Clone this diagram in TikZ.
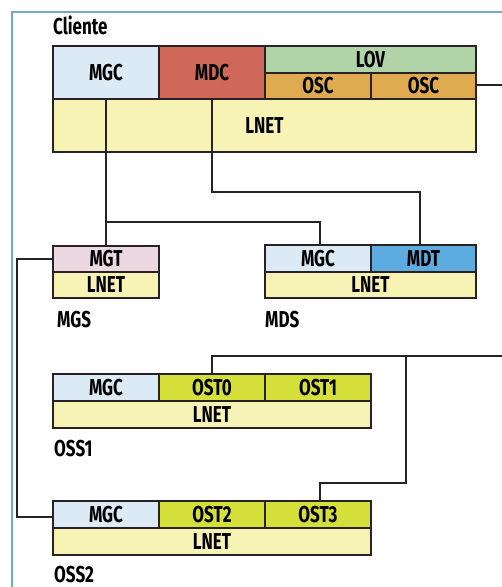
\documentclass[tikz,border=0pt]{standalone}
\usepackage{fontspec}
\setmainfont{Fira Sans}[FakeStretch=0.74]
\definecolor{frameblue}{RGB}{120,170,185}
\definecolor{linegray}{RGB}{40,34,38}
\definecolor{mgcfill}{RGB}{220,234,245}
\definecolor{mdcfill}{RGB}{208,104,90}
\definecolor{lovfill}{RGB}{176,211,168}
\definecolor{oscfill}{RGB}{224,170,80}
\definecolor{lnetfill}{RGB}{247,243,181}
\definecolor{mgtfill}{RGB}{236,216,224}
\definecolor{mdtfill}{RGB}{94,172,223}
\definecolor{ostfill}{RGB}{212,223,58}
\tikzset{
  cell/.style={draw=linegray, line width=1.3pt, inner sep=0pt, font=\fontsize{23}{23}\selectfont\bfseries},
  lbl/.style={anchor=base west, inner sep=0pt, font=\fontsize{23}{23}\selectfont\bfseries},
  wire/.style={draw=linegray, line width=2.4pt, line join=miter}
}
% cell from (x1,y1) to (x2,y2), in pixel units
\newcommand{\mycell}[7]{%
  \node[cell, fill=#6, minimum width={(#4-#2)*1pt}, minimum height={(#5-#3)*1pt}]
    (#1) at ({(#2+#4)/2},{(#3+#5)/2}) {#7};}
\begin{document}
\begin{tikzpicture}[x=1pt,y=-1pt]
\useasboundingbox (0,0) rectangle (502,587);
% outer frame
\draw[frameblue, line width=1.6pt] (12,587) -- (12,12) -- (502,12);

% client
\node[lbl] (lcli) at (53,34) {Cliente};
\mycell{cmgc}{53}{46}{159}{99}{mgcfill}{MGC}
\mycell{cmdc}{159}{46}{265}{99}{mdcfill}{MDC}
\mycell{clov}{265}{46}{476}{73}{lovfill}{LOV}
\mycell{cosca}{265}{73}{371}{99}{oscfill}{OSC}
\mycell{coscb}{371}{73}{476}{99}{oscfill}{OSC}
\mycell{clnet}{53}{99}{476}{152}{lnetfill}{LNET}

% MGS
\mycell{mgt}{53}{246}{159}{272}{mgtfill}{MGT}
\mycell{glnet}{53}{272}{159}{298}{lnetfill}{LNET}
\node[lbl] (lmgs) at (57,327) {MGS};

% MDS
\mycell{dmgc}{265}{245}{371}{272}{mgcfill}{MGC}
\mycell{mdt}{371}{245}{476}{272}{mdtfill}{MDT}
\mycell{dlnet}{265}{272}{476}{298}{lnetfill}{LNET}
\node[lbl] (lmds) at (265,327) {MDS};

% OSS1
\mycell{amgc}{53}{374}{159}{401}{mgcfill}{MGC}
\mycell{ost0}{159}{374}{265}{401}{ostfill}{OST0}
\mycell{ost1}{265}{374}{371}{401}{ostfill}{OST1}
\mycell{alnet}{53}{401}{371}{428}{lnetfill}{LNET}
\node[lbl] (loss1) at (54,456) {OSS1};

% OSS2
\mycell{bmgc}{53}{501}{159}{528}{mgcfill}{MGC}
\mycell{ost2}{159}{501}{265}{528}{ostfill}{OST2}
\mycell{ost3}{265}{501}{371}{528}{ostfill}{OST3}
\mycell{blnet}{53}{528}{371}{555}{lnetfill}{LNET}
\node[lbl] (loss2) at (54,582) {OSS2};

% connectors
\coordinate (j1) at (106,222);
\coordinate (j2) at (406,356);
\coordinate (eosc) at (502,85);
\coordinate (eost) at (502,356);
\draw[wire] (cmgc.south) -- (mgt.north);
\draw[wire] (j1) -- (320,222) -- (dmgc.north -| 320,0);
\draw[wire] (cmdc.south) -- (212,192) -- (420,192) -- (mdt.north -| 420,0);
\draw[wire] (coscb.east |- eosc) -- (eosc);
\draw[wire] (mgt.west |- 0,259) -- (17,259) -- (17,517) -- (bmgc.west |- 0,517);
\draw[wire] (ost0.north -| 212,0) -- (212,356) -- (eost);
\draw[wire] (j2) -- (406,483) -- (320,483) -- (ost3.north -| 320,0);
\end{tikzpicture}
\end{document}
